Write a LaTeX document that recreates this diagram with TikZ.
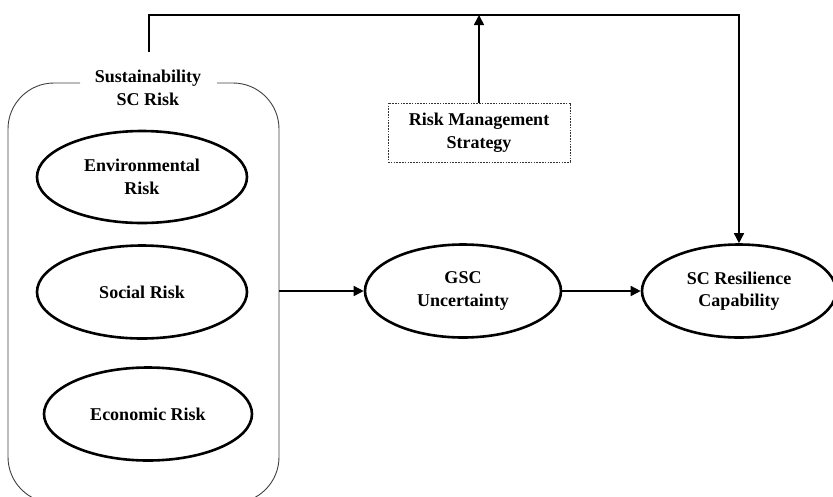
\documentclass[tikz,border=0pt]{standalone}
\usepackage{fontspec}
\setmainfont{Liberation Serif}
\usetikzlibrary{shapes.geometric,arrows.meta}
\tikzset{
  lbl/.style={font=\bfseries\fontsize{18}{22.5}\selectfont, align=center},
  oval/.style={ellipse, draw=black, line width=2.6pt, inner sep=0pt, lbl},
  link/.style={draw=black, line width=1.6pt, -{Triangle[length=10pt,width=10pt]}},
  frame/.style={draw=black!75, line width=0.9pt, rounded corners=46pt},
  dotbox/.style={draw=black!80, line width=0.8pt, dash pattern=on 1.6pt off 1.2pt, lbl, minimum width=182pt, minimum height=59pt, inner sep=0pt}
}
\begin{document}
\begin{tikzpicture}[x=1pt,y=-1pt]
\useasboundingbox (0,0) rectangle (833,496);
% container (invisible node for anchors)
\node[draw=none, minimum width=271pt, minimum height=420pt, inner sep=0pt] (cont) at (143.5,293) {};
\node[lbl] (title) at (148,88) {Sustainability\\SC Risk};
\draw[frame] (80,83) -- (8,83) -- (8,503) -- (279,503) -- (279,83) -- (217,83);
% risk ovals
\node[oval, minimum width=210pt, minimum height=92pt] (env) at (142,177) {Environmental\\Risk};
\node[oval, minimum width=210pt, minimum height=93pt] (soc) at (142,292) {Social Risk};
\node[oval, minimum width=208pt, minimum height=93pt] (eco) at (148,414) {Economic Risk};
% main chain
\node[oval, minimum width=196pt, minimum height=93pt] (gsc) at (463,291) {GSC\\Uncertainty};
\node[oval, minimum width=194pt, minimum height=93pt] (scr) at (739,291) {SC Resilience\\Capability};
\node[dotbox] (rms) at (479,132.5) {Risk Management\\Strategy};
% connectors
\coordinate (fbstart) at (149,52);
\coordinate (tr) at (739,15);
\draw[link] (cont.east |- gsc.west) -- (gsc.west);
\draw[link] (gsc.east) -- (scr.west);
\draw[link] (fbstart) |- (tr) -- (scr.north);
\draw[link] (rms.north) -- (rms.north |- tr);
\end{tikzpicture}
\end{document}
